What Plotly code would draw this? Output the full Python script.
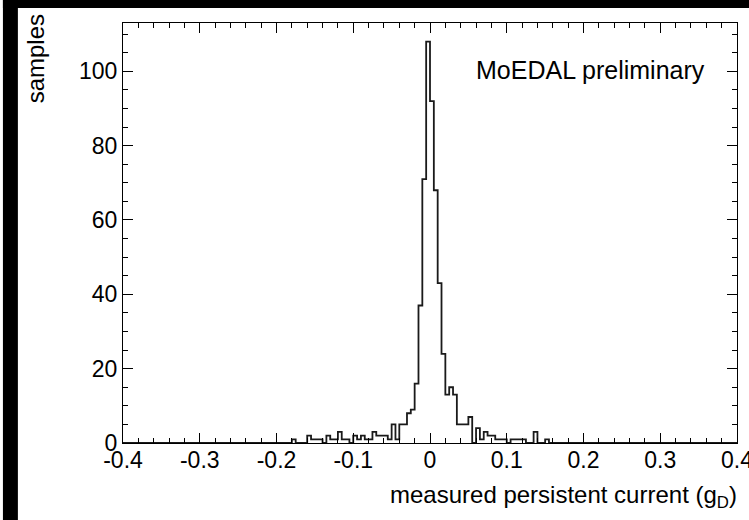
import numpy as np
import plotly.graph_objects as go

# ---- data ----
bin_width = 0.005
hist_lo, hist_hi = -0.4, 0.4
data_start = -0.18          # left edge of first listed bin
counts = [1, 0, 0, 0, 2, 1, 1, 1, 0, 2,
          1, 1, 3, 1, 1, 0, 2, 1, 2, 1,
          1, 3, 2, 2, 2, 1, 5, 1, 5, 5,
          8, 9, 16, 37, 71, 108, 92, 68, 43, 24,
          13, 15, 13, 5, 5, 5, 7, 0, 4, 1,
          3, 2, 2, 1, 1, 1, 0, 1, 1, 1,
          1, 0, 0, 3, 0, 0, 1]

x_tick_vals = [-0.4, -0.3, -0.2, -0.1, 0.0, 0.1, 0.2, 0.3, 0.4]
x_tick_text = ["-0.4", "-0.3", "-0.2", "-0.1", "0", "0.1", "0.2", "0.3", "0.4"]
y_tick_vals = [0, 20, 40, 60, 80, 100]
y_tick_text = ["0", "20", "40", "60", "80", "100"]

# ---- build full histogram ----
n_bins = int(round((hist_hi - hist_lo) / bin_width))
edges = np.round(np.linspace(hist_lo, hist_hi, n_bins + 1), 4)
pad_left = int(round((data_start - hist_lo) / bin_width))
pad_right = n_bins - pad_left - len(counts)
full = [0] * pad_left + counts + [0] * pad_right
step_y = full + [0]

FONT = "Liberation Sans, Arial, Helvetica, sans-serif"

fig = go.Figure()
fig.add_trace(go.Scatter(x=edges, y=step_y, mode="lines", line_shape="hv",
                         line=dict(color="#1a1a1a", width=1.8),
                         hoverinfo="skip", showlegend=False))

# page is captured slightly wider than the picture and squeezed horizontally
SX = 765 / 749
W, H = 765, 520
L, T = round(120 * SX), 23
R = W - round(736 * SX)
B = H - 443
pw, ph = W - L - R, H - T - B

def px(xs):
    return (xs * SX - L) / pw

def py(ys):
    return (H - B - ys) / ph

fig.update_layout(
    width=W, height=H,
    margin=dict(l=L, r=R, t=T, b=B, pad=0),
    paper_bgcolor="white", plot_bgcolor="white",
    showlegend=False,
    font=dict(family=FONT, color="black"),
)

fig.update_xaxes(
    range=[hist_lo, hist_hi], tickmode="array", tickvals=x_tick_vals, ticktext=x_tick_text,
    ticks="inside", ticklen=10, tickwidth=1, tickcolor="black",
    showline=True, linecolor="black", linewidth=1, mirror="ticks",
    showgrid=False, zeroline=False, ticklabeloverflow="allow", ticklabelstandoff=-4,
    minor=dict(tickmode="linear", tick0=0, dtick=0.02, ticks="inside", ticklen=5,
               tickwidth=1, tickcolor="black", showgrid=False),
    tickfont=dict(size=23, family=FONT, color="black"),
)
fig.update_yaxes(
    range=[0, 113], tickmode="array", tickvals=y_tick_vals, ticktext=y_tick_text,
    ticks="inside", ticklen=10, tickwidth=1, tickcolor="black",
    showline=True, linecolor="black", linewidth=1, mirror="ticks",
    showgrid=False, zeroline=False,
    minor=dict(tickmode="linear", tick0=0, dtick=5, ticks="inside", ticklen=5,
               tickwidth=1, tickcolor="black", showgrid=False),
    tickfont=dict(size=23, family=FONT, color="black"),
)

fig.add_annotation(text="MoEDAL preliminary", xref="paper", yref="paper",
                   x=px(472), y=py(70), xanchor="left", yanchor="middle",
                   showarrow=False, font=dict(size=25, family=FONT, color="black"))
fig.add_annotation(text="samples", xref="paper", yref="paper", textangle=-90,
                   x=px(33), y=py(12), xanchor="center", yanchor="top",
                   showarrow=False, font=dict(size=24, family=FONT, color="black"))
fig.add_annotation(text="measured persistent current (g<sub>D</sub>)", xref="paper", yref="paper",
                   x=px(738), y=py(496), xanchor="right", yanchor="middle",
                   showarrow=False, font=dict(size=24, family=FONT, color="black"))

# black strips on the top and left edges of the original picture
fig.add_shape(type="rect", xref="paper", yref="paper", x0=px(0), x1=px(749), y0=py(0), y1=py(8),
              fillcolor="black", line=dict(width=0), layer="above")
fig.add_shape(type="rect", xref="paper", yref="paper", x0=px(0), x1=px(15), y0=py(0), y1=py(H),
              fillcolor="black", line=dict(width=0), layer="above")

# place the figure at the top-left corner of the page (no default body margin)
page_css = ("document.body.style.margin='0';"
            "document.body.style.overflow='hidden';"
            "document.documentElement.style.overflow='hidden';")
fig.write_html("out.html", post_script=page_css, config={"displayModeBar": False})
